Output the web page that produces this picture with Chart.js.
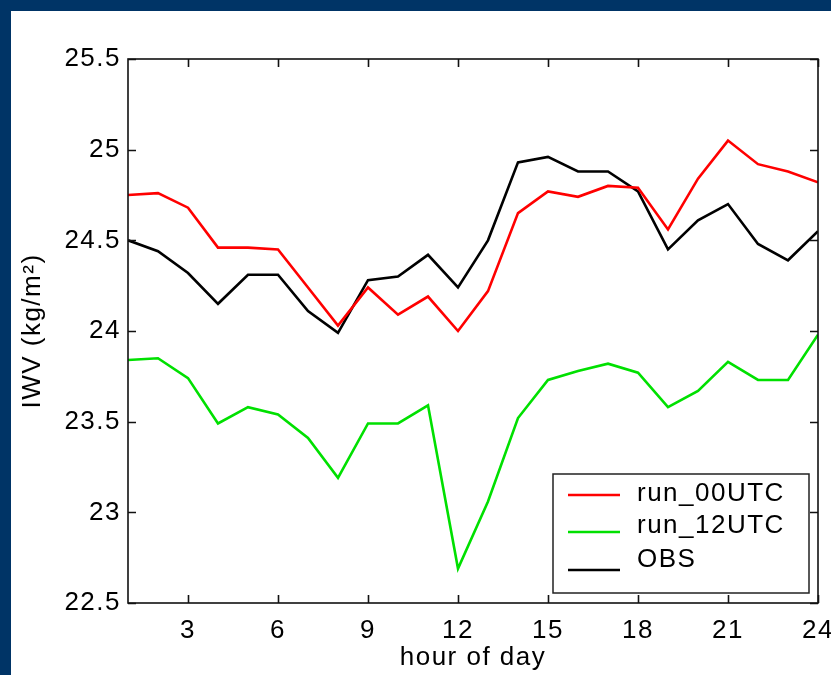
<!DOCTYPE html>
<html lang="en">
<head>
  <meta charset="UTF-8" />
  <title>IWV - hour of day</title>
  <style>
    * { margin: 0; padding: 0; box-sizing: border-box; }
    html, body { width: 831px; height: 675px; overflow: hidden; background: #003466; }
    .panel {
      position: absolute; left: 11px; top: 11px;
      width: 820px; height: 664px;
      background: #fff; overflow: hidden;
    }
    canvas { display: block; }
  </style>
</head>
<body>
  <div class="panel">
    <canvas id="iwvChart" width="840" height="664"></canvas>
  </div>

  <script src="https://cdn.jsdelivr.net/npm/chart.js"></script>
  <script>
    // hourly means of integrated water vapour
    const hours = [1, 2, 3, 4, 5, 6, 7, 8, 9, 10, 11, 12, 13, 14, 15, 16, 17, 18, 19, 20, 21, 22, 23, 24];
    const run00 = [24.75, 24.76, 24.68, 24.46, 24.46, 24.45, 24.24, 24.03, 24.24, 24.09, 24.19, 24.00,
                   24.22, 24.65, 24.77, 24.74, 24.80, 24.79, 24.56, 24.84, 25.05, 24.92, 24.88, 24.82];
    const run12 = [23.84, 23.85, 23.74, 23.49, 23.58, 23.54, 23.41, 23.19, 23.49, 23.49, 23.59, 22.69,
                   23.06, 23.52, 23.73, 23.78, 23.82, 23.77, 23.58, 23.67, 23.83, 23.73, 23.73, 23.98];
    const obs   = [24.50, 24.44, 24.32, 24.15, 24.31, 24.31, 24.11, 23.99, 24.28, 24.30, 24.42, 24.24,
                   24.50, 24.93, 24.96, 24.88, 24.88, 24.77, 24.45, 24.61, 24.70, 24.48, 24.39, 24.55];
    const xTicks = [3, 6, 9, 12, 15, 18, 21, 24];
    const yTicks = [22.5, 23, 23.5, 24, 24.5, 25, 25.5];

    const axisFont = { family: "'Liberation Sans', Arial, sans-serif", size: 26 };

    const toPoints = vals => vals.map((v, i) => ({ x: hours[i], y: v }));

    // wider letter spacing, like the old bitmap helvetica
    const spacingPlugin = {
      id: 'spacing',
      beforeUpdate(chart) { chart.ctx.letterSpacing = '1.5px'; },
      beforeDraw(chart) { chart.ctx.letterSpacing = '1.5px'; }
    };

    // box around the axes, inward ticks on all four sides, legend in the corner
    const framePlugin = {
      id: 'frame',
      afterDatasetsDraw(chart) {
        const { ctx, chartArea: a, scales: { x, y } } = chart;
        const tick = 8;
        ctx.save();
        ctx.strokeStyle = '#111';
        ctx.lineWidth = 1.6;
        ctx.strokeRect(a.left, a.top, a.right - a.left, a.bottom - a.top);
        ctx.beginPath();
        xTicks.forEach(v => {
          const px = Math.round(x.getPixelForValue(v)) + 0.5;
          ctx.moveTo(px, a.bottom); ctx.lineTo(px, a.bottom - tick);
          ctx.moveTo(px, a.top); ctx.lineTo(px, a.top + tick);
        });
        yTicks.forEach(v => {
          const py = Math.round(y.getPixelForValue(v)) + 0.5;
          ctx.moveTo(a.left, py); ctx.lineTo(a.left + tick, py);
          ctx.moveTo(a.right, py); ctx.lineTo(a.right - tick, py);
        });
        ctx.stroke();

        // legend
        const bw = 256, bh = 119;
        const bx = a.right - 9 - bw, by = a.bottom - 10 - bh;
        ctx.fillStyle = '#fff';
        ctx.fillRect(bx, by, bw, bh);
        ctx.strokeStyle = '#222';
        ctx.lineWidth = 1.5;
        ctx.strokeRect(bx, by, bw, bh);
        const textY = [20, 52, 86];
        const lineY = [21, 58, 96];
        ctx.font = `${axisFont.size}px ${axisFont.family}`;
        ctx.textBaseline = 'middle';
        ctx.textAlign = 'left';
        chart.data.datasets.forEach((ds, i) => {
          ctx.strokeStyle = ds.borderColor;
          ctx.lineWidth = 2.5;
          ctx.beginPath();
          ctx.moveTo(bx + 15, by + lineY[i]);
          ctx.lineTo(bx + 67, by + lineY[i]);
          ctx.stroke();
          ctx.fillStyle = '#000';
          ctx.fillText(ds.label, bx + 84, by + textY[i]);
        });
        ctx.restore();
      }
    };

    const lineStyle = { borderWidth: 2.6, pointRadius: 0, tension: 0, fill: false };

    new Chart(document.getElementById('iwvChart'), {
      type: 'line',
      data: {
        datasets: [
          { label: 'run_00UTC', data: toPoints(run00), borderColor: '#ff0000', ...lineStyle },
          { label: 'run_12UTC', data: toPoints(run12), borderColor: '#00e000', ...lineStyle },
          { label: 'OBS', data: toPoints(obs), borderColor: '#000000', ...lineStyle }
        ]
      },
      options: {
        responsive: false,
        animation: false,
        events: [],
        layout: { padding: { left: 0, top: 48, right: 33, bottom: 0 } },
        plugins: { legend: { display: false }, tooltip: { enabled: false } },
        scales: {
          x: {
            type: 'linear',
            min: 1,
            max: 24,
            afterBuildTicks: s => { s.ticks = xTicks.map(v => ({ value: v })); },
            afterFit: s => { s.height = 72; },
            grid: { display: false, drawTicks: false },
            border: { display: false },
            ticks: {
              font: axisFont, color: '#000', padding: 12,
              maxRotation: 0, autoSkip: false,
              callback: v => String(v)
            },
            title: {
              display: true, text: 'hour of day', font: axisFont, color: '#000',
              padding: { top: 0, bottom: 2 }
            }
          },
          y: {
            type: 'linear',
            min: 22.5,
            max: 25.5,
            afterBuildTicks: s => { s.ticks = yTicks.map(v => ({ value: v })); },
            afterFit: s => { s.width = 117; },
            grid: { display: false, drawTicks: false },
            border: { display: false },
            ticks: {
              font: axisFont, color: '#000', padding: 7,
              autoSkip: false,
              callback: v => String(v)
            },
            title: {
              display: true, text: 'IWV (kg/m²)', font: axisFont, color: '#000',
              padding: { top: 6, bottom: 0 }
            }
          }
        }
      },
      plugins: [spacingPlugin, framePlugin]
    });
  </script>
</body>
</html>
